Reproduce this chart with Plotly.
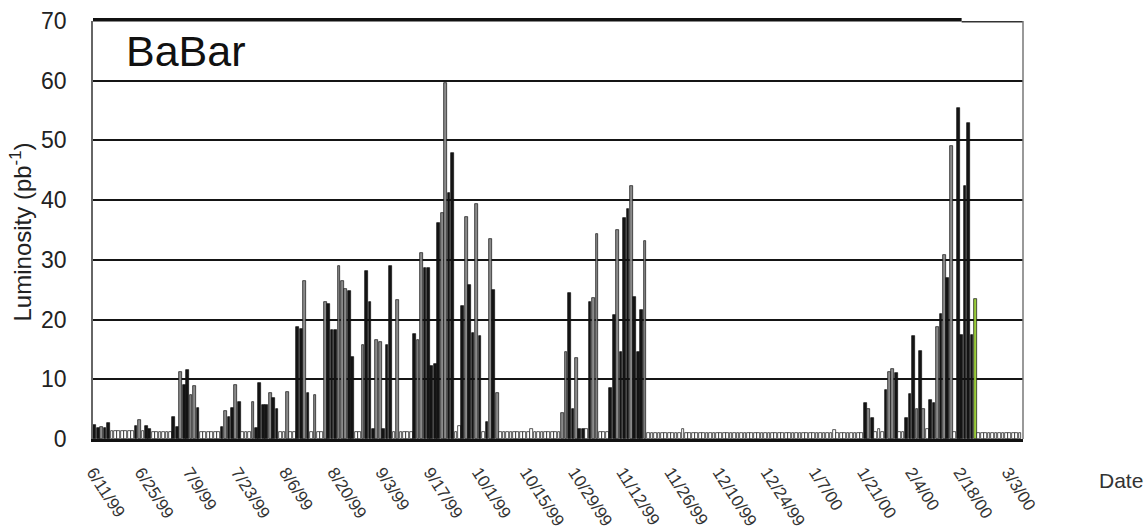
import datetime as dt
import plotly.graph_objects as go

# Daily integrated luminosity (pb^-1), one value per day starting 6/11/99
lumi = [
    2.3, 1.8, 2.0, 1.8, 2.7, 1.3, 1.3, 1.3, 1.3, 1.3,
    1.3, 1.3, 2.2, 3.1, 1.3, 2.2, 1.6, 1.2, 1.2, 1.2,
    1.2, 1.2, 1.2, 3.7, 2.0, 11.3, 9.0, 11.6, 7.4, 8.8,
    5.2, 1.2, 1.2, 1.2, 1.2, 1.2, 1.2, 2.0, 4.7, 3.7,
    5.2, 9.0, 6.2, 1.2, 1.2, 1.2, 6.2, 1.8, 9.4, 5.7,
    5.7, 7.7, 6.9, 5.0, 1.2, 1.2, 7.9, 1.2, 1.2, 18.7,
    18.5, 26.5, 7.7, 1.2, 7.4, 1.2, 1.2, 23.0, 22.6, 18.3,
    18.3, 29.0, 26.5, 25.2, 24.8, 13.8, 1.2, 1.2, 15.7, 28.2,
    23.0, 1.7, 16.6, 16.3, 1.7, 15.7, 29.0, 1.2, 23.3, 1.2,
    1.2, 1.2, 1.2, 17.6, 16.6, 31.1, 28.6, 28.6, 12.2, 12.6,
    36.1, 37.8, 59.6, 41.2, 47.9, 1.2, 2.2, 22.2, 37.2, 25.8,
    17.8, 39.4, 17.2, 1.2, 2.9, 33.5, 25.0, 7.7, 1.2, 1.2,
    1.2, 1.2, 1.2, 1.2, 1.2, 1.2, 1.2, 1.7, 1.2, 1.2,
    1.2, 1.2, 1.2, 1.2, 1.2, 1.2, 4.4, 14.6, 24.5, 5.0,
    13.5, 1.7, 1.7, 1.7, 23.0, 23.6, 34.3, 1.2, 1.2, 1.2,
    8.6, 20.7, 35.0, 14.6, 37.0, 38.5, 42.4, 23.8, 14.6, 21.6,
    33.2, 1.0, 1.0, 1.0, 1.0, 1.0, 1.0, 1.0, 1.0, 1.0,
    1.0, 1.6, 1.0, 1.0, 1.0, 1.0, 1.0, 1.0, 1.0, 1.0,
    1.0, 1.0, 1.0, 1.0, 1.0, 1.0, 1.0, 1.0, 1.0, 1.0,
    1.0, 1.0, 1.0, 1.0, 1.0, 1.0, 1.0, 1.0, 1.0, 1.0,
    1.0, 1.0, 1.0, 1.0, 1.0, 1.0, 1.0, 1.0, 1.0, 1.0,
    1.0, 1.0, 1.0, 1.0, 1.0, 1.5, 1.0, 1.0, 1.0, 1.0,
    1.0, 1.0, 1.0, 1.0, 6.0, 5.0, 3.5, 1.2, 1.7, 1.2,
    8.2, 11.3, 11.7, 11.0, 1.2, 1.2, 3.5, 7.5, 17.3, 5.0,
    14.8, 5.0, 1.7, 6.6, 6.1, 18.7, 20.9, 30.8, 26.9, 49.1,
    1.2, 55.4, 17.4, 42.3, 53.0, 17.4, 23.4, 1.0, 1.0, 1.0,
    1.0, 1.0, 1.0, 1.0, 1.0, 1.0, 1.0, 1.0, 1.0, 1.0,
]

# Bar shading: k = dark, g = grey, w = hollow, G = green
kind = "".join([
    "kkgkkwwwww", "wwkgwkkwww", "wwwkkgkkgg", "kwwwwwwkgk", "kgkwwwgkkk",
    "kgkkwwgwwk", "kgkwgwwgkk", "kgggkkwwgk", "kkggkkkwgw", "wwwkggkkkk",
    "kggkkwwkgk", "kgkwkgkgww", "wwwwwwwwww", "wwwwwwggkk", "gkkwkggwww",
    "kkgkkkgkkk", "gwwwwwwwww", "wwwwwwwwww", "wwwwwwwwww", "wwwwwwwwww",
    "wwwwwwwwww", "wwwwwwwwww", "wwwwkgkwww", "kggkwwkkkg", "kgwkkgkgkg",
    "wkkkkkGwww", "wwwwwwwwww",
])

tick_labels = ["6/11/99", "6/25/99", "7/9/99", "7/23/99", "8/6/99", "8/20/99",
               "9/3/99", "9/17/99", "10/1/99", "10/15/99", "10/29/99", "11/12/99",
               "11/26/99", "12/10/99", "12/24/99", "1/7/00", "1/21/00", "2/4/00",
               "2/18/00", "3/3/00"]

start = dt.datetime(1999, 6, 11)
dates = [start + dt.timedelta(days=i, hours=12) for i in range(len(lumi))]
tick_vals = [start + dt.timedelta(days=14 * i) for i in range(len(tick_labels))]

cmap = {"k": "#141414", "g": "#8a8a8a", "w": "#ffffff", "G": "#9acd3a"}
colors = [cmap[c] for c in kind]

FONT = "Liberation Sans, Arial, sans-serif"

fig = go.Figure()
fig.add_trace(go.Bar(
    x=dates, y=lumi,
    width=[0.8 * 86400000] * len(lumi),
    marker=dict(color=colors, line=dict(color="#111111", width=0.7)),
    hoverinfo="x+y", showlegend=False,
))

fig.update_layout(
    width=1148, height=529,
    margin=dict(l=93, r=125, t=21, b=90, autoexpand=False),
    paper_bgcolor="white", plot_bgcolor="white",
    font=dict(family=FONT, color="#222"),
    xaxis=dict(
        type="date",
        range=[start, start + dt.timedelta(days=270.35)],
        tickmode="array", tickvals=tick_vals, ticktext=tick_labels,
        tickangle=57, tickfont=dict(size=17, color="#333", family=FONT),
        ticks="outside", ticklen=14, tickcolor="rgba(0,0,0,0)",
        showgrid=False, showline=True, linecolor="#111", linewidth=2.5,
        zeroline=False, automargin=False,
    ),
    yaxis=dict(
        range=[0, 70], tickmode="array", tickvals=list(range(0, 71, 10)),
        tickfont=dict(size=23, color="#222", family=FONT),
        ticks="outside", ticklen=20, tickcolor="rgba(0,0,0,0)",
        showgrid=True, gridcolor="#151515", gridwidth=2,
        showline=True, linecolor="#666", linewidth=1.5,
        zeroline=False, automargin=False,
    ),
    bargap=0,
)

# frame: thick top edge (partial), thin remainder, thin right edge
fig.add_shape(type="line", xref="paper", yref="paper", x0=0, x1=0.934, y0=1.003, y1=1.003,
              line=dict(color="#111", width=3.5))
fig.add_shape(type="line", xref="paper", yref="paper", x0=0.934, x1=1, y0=0.998, y1=0.998,
              line=dict(color="#333", width=1.5))
fig.add_shape(type="line", xref="paper", yref="paper", x0=1, x1=1, y0=0, y1=1,
              line=dict(color="#777", width=1.5))

fig.add_annotation(text="BaBar", xref="paper", yref="paper", x=0.033, y=0.928,
                   xanchor="left", yanchor="middle", showarrow=False,
                   font=dict(size=43, color="#111", family=FONT))
fig.add_annotation(text="Luminosity (pb<sup>-1</sup>)", xref="paper", yref="paper",
                   x=-0.077, y=0.495, textangle=-90, xanchor="center", yanchor="middle",
                   showarrow=False, font=dict(size=24, color="#222", family=FONT))
fig.add_annotation(text="Date", xref="paper", yref="paper", x=1.080, y=-0.10,
                   xanchor="left", yanchor="middle", showarrow=False,
                   font=dict(size=21, color="#333", family=FONT))

fig.write_html("out.html")
